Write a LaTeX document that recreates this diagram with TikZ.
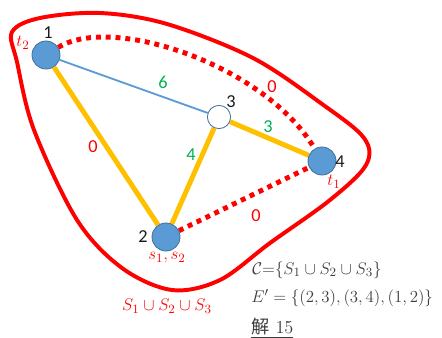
\documentclass[tikz,border=0pt]{standalone}
\usepackage{amsmath,amssymb}
\usepackage{fontspec}
\setsansfont{Carlito}
\newfontfamily\cjkfont{Noto Sans CJK SC}
\usetikzlibrary{positioning,backgrounds}
\definecolor{cVertex}{HTML}{5B9BD5}
\definecolor{cVertexRim}{HTML}{41719C}
\definecolor{cTree}{HTML}{FFC000}
\definecolor{cCut}{HTML}{FF0000}
\definecolor{cWeight}{HTML}{00B050}
\definecolor{cInk}{HTML}{1A1A1A}
\tikzset{
  vertex/.style={circle, fill=cVertex, draw=cVertexRim, line width=0.6pt,
                 minimum size=7mm, inner sep=0pt},
  vertexOpen/.style={circle, fill=white, draw=cVertexRim, line width=0.6pt,
                     minimum size=5.8mm, inner sep=0pt},
  treeEdge/.style={draw=cTree, line width=3.5pt},
  plainEdge/.style={draw=cVertex, line width=1.3pt},
  zeroEdge/.style={draw=cCut, line width=3.5pt, dash pattern=on 3.5pt off 3.5pt},
  region/.style={draw=cCut, line width=2.8pt},
  vlbl/.style={font=\sffamily\fontsize{13}{15}\selectfont, text=cInk, inner sep=0pt},
  wlbl/.style={font=\sffamily\fontsize{13}{15}\selectfont, text=cWeight, inner sep=0pt},
  zlbl/.style={font=\sffamily\fontsize{13}{15}\selectfont, text=cCut, inner sep=0pt},
  term/.style={font=\fontsize{13}{15}\selectfont, text=cCut, inner sep=0pt},
  note/.style={font=\fontsize{13}{15}\selectfont, text=cInk!85, anchor=west, inner sep=0pt},
}

\begin{document}
\begin{tikzpicture}[x=0.25mm, y=-0.25mm]
\useasboundingbox (0,0) rectangle (442,338);

% ========== REGION S1 u S2 u S3 ==========
\draw[region] plot[smooth cycle, tension=0.55] coordinates {
  (12,32) (40,18) (100,13) (167,24) (253,58) (322,104) (364,138)
  (366,165) (330,200) (270,243) (220,280) (172,290) (122,268)
  (77,220) (34,130) (17,62)};
\node[term] (regname) at (167,306) {$S_1 \cup S_2 \cup S_3$};

% ========== VERTICES ==========
\node[vertex] (n1) at (46,55) {};
\node[vertex] (n2) at (166,237) {};
\node[vertexOpen] (n3) at (219,117) {};
\node[vertex] (n4) at (322,161) {};

\node[vlbl] (l1) at (48,33) {1};
\node[vlbl] (l2) at (143,237) {2};
\node[vlbl] (l3) at (231,102) {3};
\node[vlbl] (l4) at (340,162) {4};

\node[term] (t2) at (23,43) {$t_2$};
\node[term] (t1) at (334,182) {$t_1$};
\node[term] (s12) at (167,258) {$s_1, s_2$};

% ========== EDGES ==========
\begin{scope}[on background layer]
  \draw[plainEdge] (n1) -- (n3);
  \foreach \a/\b in {n1/n2, n2/n3, n3/n4}
    \draw[treeEdge] (\a) -- (\b);
  \draw[zeroEdge] (n1) .. controls (112,14) and (265,65) .. (n4);
  \draw[zeroEdge] (n2) -- (n4);
\end{scope}

% edge weights
\node[wlbl] (w13) at (163,82) {6};
\node[wlbl] (w34) at (268,127) {3};
\node[wlbl] (w23) at (191,155) {4};
\node[zlbl] (w12) at (93,147) {0};
\node[zlbl] (w14) at (272,87) {0};
\node[zlbl] (w24) at (256,216) {0};

% ========== SOLUTION NOTE ==========
\node[note] (cover) at (252,270) {$\mathcal{C}{=}\{S_1 \cup S_2 \cup S_3\}$};
\node[note] (eprime) at (251,298) {$E' = \{(2,3), (3,4), (1,2)\}$};
\node[note] (sol) at (251,328) {\underline{{\cjkfont 解} 15}};

\end{tikzpicture}
\end{document}
